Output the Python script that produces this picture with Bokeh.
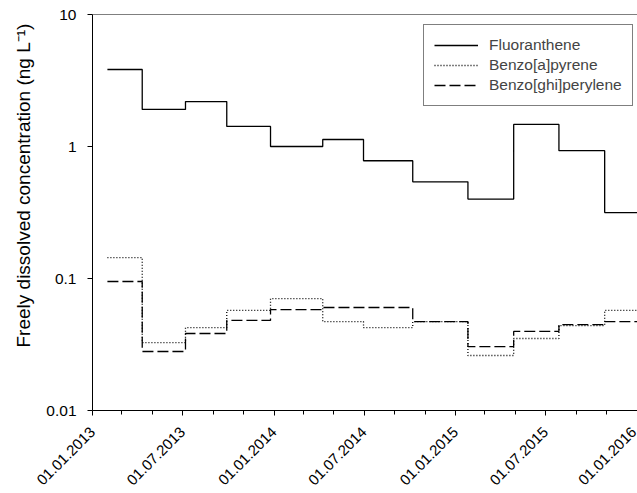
import pandas as pd
from math import pi
from bokeh.plotting import figure
from bokeh.models import (Range1d, FixedTicker, DatetimeTickFormatter, Span,
                          Legend, LegendItem, Title, ColumnDataSource)
from bokeh.embed import file_html
from bokeh.resources import INLINE

# ---- data ----
period_start = ["2013-01-31", "2013-04-11", "2013-07-07", "2013-09-28",
                "2013-12-25", "2014-04-09", "2014-06-30", "2014-10-07",
                "2015-01-26", "2015-04-28", "2015-07-28", "2015-10-28"]
last_period_end = "2016-01-02"
fluoranthene = [3.83, 1.91, 2.19, 1.42, 1.00, 1.13, 0.78, 0.54, 0.40, 1.47, 0.93, 0.316]
benzo_a_pyrene = [0.144, 0.0327, 0.0425, 0.0573, 0.0705, 0.0472, 0.0425, 0.0472,
                  0.0261, 0.0351, 0.044, 0.0573]
benzo_ghi_perylene = [0.0949, 0.028, 0.0383, 0.0481, 0.0582, 0.0603, 0.0603, 0.0472,
                      0.0305, 0.0397, 0.0448, 0.0472]
series_names = ["Fluoranthene", "Benzo[a]pyrene", "Benzo[ghi]perylene"]
major_tick_dates = ["2013-01-01", "2013-07-01", "2014-01-01", "2014-07-01",
                    "2015-01-01", "2015-07-01", "2016-01-01"]
minor_tick_dates = ["2013-03-01", "2013-05-01", "2013-09-01", "2013-11-01",
                    "2014-03-01", "2014-05-01", "2014-09-01", "2014-11-01",
                    "2015-03-01", "2015-05-01", "2015-09-01", "2015-11-01"]
y_ticks = [0.01, 0.1, 1, 10]
y_tick_labels = ["0.01", "0.1", "1", "10"]
y_label = "Freely dissolved concentration (ng L\u207b\u00b9)"

FONT = "Liberation Sans"


def to_ms(s):
    return pd.Timestamp(s).value / 1e6


xs = [pd.Timestamp(d) for d in period_start + [last_period_end]]

p = figure(width=637, height=493, output_backend="svg", toolbar_location=None,
           x_axis_type="datetime", y_axis_type="log",
           x_range=Range1d(pd.Timestamp("2013-01-01"), pd.Timestamp("2016-01-02")),
           y_range=Range1d(0.01, 10),
           min_border_left=92, min_border_right=0, min_border_top=14,
           min_border_bottom=83)
p.outline_line_color = None
p.grid.visible = False
p.background_fill_color = "white"

styles = [dict(line_dash="solid"), dict(line_dash="1 2"), dict(line_dash="11 4")]
renderers = []
for vals, st in zip([fluoranthene, benzo_a_pyrene, benzo_ghi_perylene], styles):
    src = ColumnDataSource(dict(x=xs, y=vals + [vals[-1]]))
    r = p.step("x", "y", source=src, mode="after", line_color="black",
               line_width=1.3, **st)
    renderers.append(r)

# top frame line
p.add_layout(Span(location=10, dimension="width", line_color="black", line_width=1))

# x axis
xa = p.xaxis[0]
xa.ticker = FixedTicker(ticks=[to_ms(d) for d in major_tick_dates],
                        minor_ticks=[to_ms(d) for d in minor_tick_dates])
fmt = "%d.%m.%Y"
xa.formatter = DatetimeTickFormatter(days=fmt, months=fmt, years=fmt, hours=fmt,
                                     minutes=fmt, seconds=fmt, milliseconds=fmt,
                                     microseconds=fmt, minsec=fmt, hourmin=fmt)
xa.major_label_orientation = pi / 4
xa.major_label_text_font = FONT
xa.major_label_text_font_size = "15px"
xa.major_label_text_color = "black"
xa.major_tick_out = 5
xa.major_tick_in = 0
xa.minor_tick_out = 4
xa.minor_tick_in = 0
xa.major_label_standoff = 14
xa.axis_line_color = "black"

# y axis
ya = p.yaxis[0]
ya.ticker = FixedTicker(ticks=y_ticks, minor_ticks=[])
ya.major_label_overrides = {t: l for t, l in zip(y_ticks, y_tick_labels)}
ya.major_label_text_font = FONT
ya.major_label_text_font_size = "15.5px"
ya.major_label_text_color = "black"
ya.major_tick_out = 5
ya.major_tick_in = 0
ya.minor_tick_line_color = None
ya.major_label_standoff = 11
ya.axis_line_color = "black"

# y-axis title as a left-side title
p.add_layout(Title(text=y_label, align="left", offset=63, vertical_align="middle",
                   text_font=FONT, text_font_size="19px", text_font_style="normal",
                   text_color="black", standoff=18), "left")

legend = Legend(items=[LegendItem(label=n, renderers=[r]) for n, r in zip(series_names, renderers)],
                location=(331, 304), border_line_color="black", border_line_width=1,
                background_fill_color="white", background_fill_alpha=1,
                label_text_font=FONT, label_text_font_size="15.5px",
                glyph_width=44, glyph_height=20, label_height=20, label_standoff=11,
                padding=10, spacing=0, margin=0)
p.add_layout(legend)

open("out.html", "w").write(file_html(p, INLINE))
